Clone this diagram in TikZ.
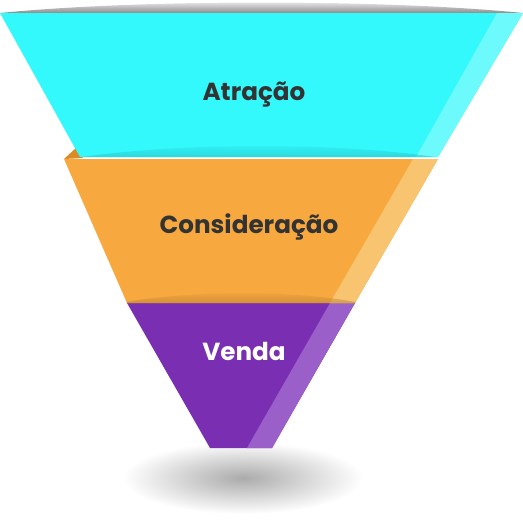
\documentclass[tikz,border=0pt]{standalone}
\usepackage{fontspec}
\setmainfont{Poppins}
\definecolor{atracao}{HTML}{33F8FC}
\definecolor{atracaoHi}{HTML}{6DFAFD}
\definecolor{consid}{HTML}{F7A940}
\definecolor{considHi}{HTML}{F9C46F}
\definecolor{considDk}{HTML}{DC8A24}
\definecolor{venda}{HTML}{7A2FB2}
\definecolor{vendaHi}{HTML}{9B5FC9}
\definecolor{vendaDk}{HTML}{57208A}
\definecolor{rotulo}{HTML}{333333}
\usetikzlibrary{shadings}
\tikzset{
  rotulo/.style={font=\fontsize{18.5}{20}\selectfont\bfseries,text=rotulo,inner sep=0pt,anchor=base},
  dobra/.style={top color=#1!100,bottom color=#1!70!black,opacity=.45,draw=none}
}
\begin{document}
\begin{tikzpicture}[x=.75pt,y=-.75pt]
\useasboundingbox (0,0) rectangle (523,526);
% shadow under the funnel
\shade[inner color=black!33,outer color=white] (243,478) ellipse (120 and 36);
% Venda
\path[fill=vendaDk] (127,303) -- (140,292) -- (143,303) -- cycle;
\path[fill=venda] (127,303) -- (355,303) -- (272,448) -- (210,448) -- cycle;
\path[fill=vendaHi] (330,303) -- (355,303) -- (272,448) -- (247,448) -- cycle;
\node[rotulo,text=white] (venda) at (244,360) {Venda};
% Consideracao
\path[fill=considDk] (64,159) -- (77,147) -- (83,158) -- cycle;
\path[fill=consid] (64,159) -- (438,159) -- (355,303) -- (127,303) -- cycle;
\path[fill=considHi] (413,159) -- (438,159) -- (355,303) -- (330,303) -- cycle;
\begin{scope}
\clip (64,159) -- (438,159) -- (355,303) -- (127,303) -- cycle;
\shade[dobra=consid] (120,303) .. controls (190,290) and (300,290) .. (360,303) -- cycle;
\end{scope}
\node[rotulo] (consideracao) at (249,233) {Consideração};
% Atracao
\shade[top color=white,bottom color=black!45] (0,13) .. controls (140,-1) and (383,-1) .. (523,13) -- cycle;
\path[fill=atracao] (0,13) -- (523,13) -- (438,157) -- (80,157) -- cycle;
\path[fill=atracaoHi] (497,13) -- (523,13) -- (438,157) -- (416,157) -- cycle;
\begin{scope}
\clip (0,13) -- (523,13) -- (438,157) -- (80,157) -- cycle;
\shade[dobra=atracao] (75,158) .. controls (180,142) and (340,142) .. (442,158) -- cycle;
\end{scope}
\node[rotulo] (atracao) at (254,100) {Atração};
\end{tikzpicture}
\end{document}
